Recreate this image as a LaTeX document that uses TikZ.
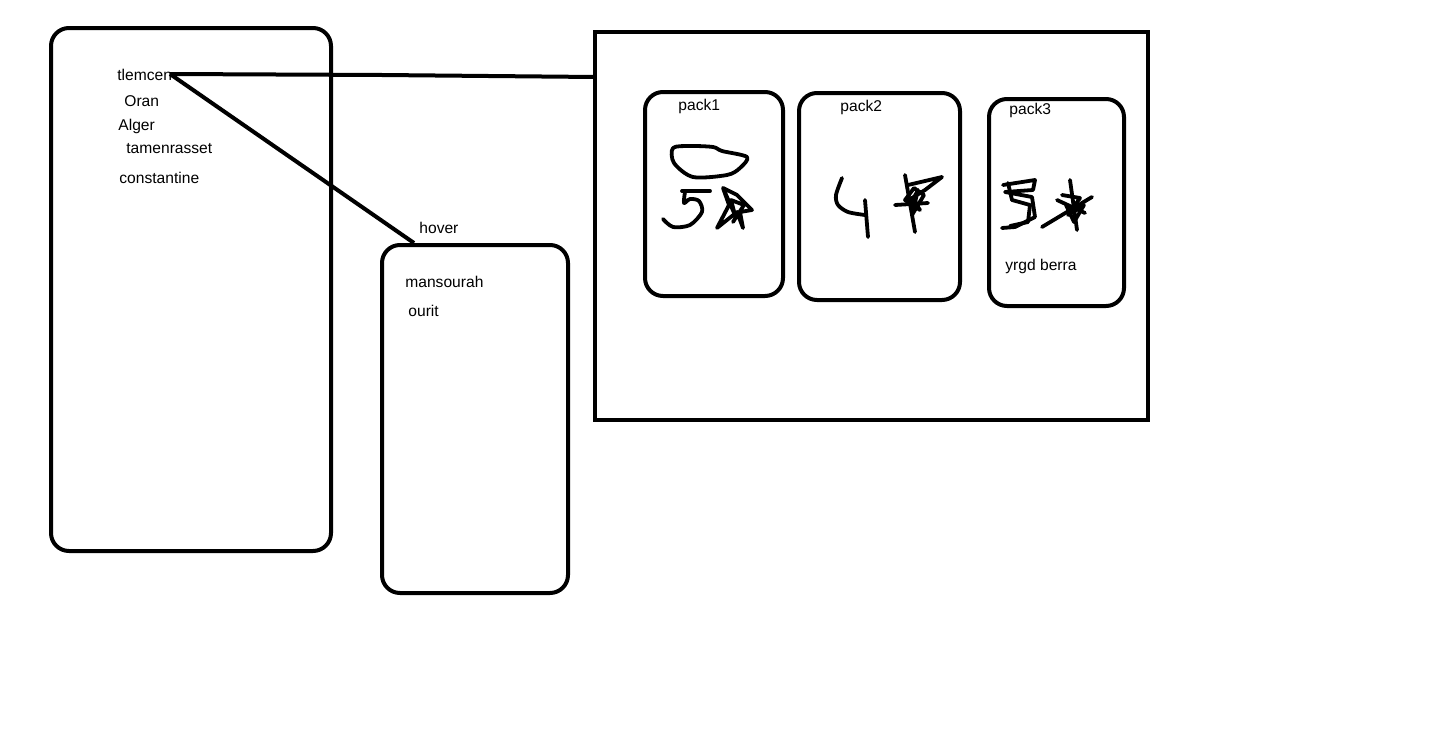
\documentclass[tikz,border=0pt]{standalone}
\usepackage{fontspec}
\setmainfont{Liberation Sans}
\begin{document}
\begin{tikzpicture}[x=0.5pt,y=-0.5pt,
  box/.style={draw=black,line width=2pt,rounded corners=9pt},
  frame/.style={draw=black,line width=2pt},
  conn/.style={draw=black,line width=2pt},
  scrib/.style={draw=black,line width=1.9pt,line cap=round,line join=round},
  lbl/.style={inner sep=0pt,anchor=west,font=\fontsize{7.8}{9}\selectfont}]
\useasboundingbox[fill=white] (0,0) rectangle (1434,755);
% boxes
\draw[box] (51,28) rectangle (331,551);
\draw[box] (382,245) rectangle (568,593);
\draw[frame] (595,32) rectangle (1148,420);
\draw[box] (645,92) rectangle (783,296);
\draw[box] (799,93) rectangle (960,300);
\draw[box] (989,99) rectangle (1124,306);
% labels
\node[lbl] (tlemcen) at (117,75) {tlemcen};
\node[lbl] (oran) at (124,101) {Oran};
\node[lbl] (alger) at (118,126) {Alger};
\node[lbl] (tam) at (126,149) {tamenrasset};
\node[lbl] (const) at (119,178) {constantine};
\node[lbl] (hover) at (419,228) {hover};
\node[lbl] (mans) at (405,282) {mansourah};
\node[lbl] (ourit) at (408,311) {ourit};
\node[lbl] (p1) at (678,106) {pack1};
\node[lbl] (p2) at (840,107) {pack2};
\node[lbl] (p3) at (1009,110) {pack3};
\node[lbl] (yb) at (1005,266) {yrgd berra};
% connectors
\coordinate (c0) at (170,74);
\coordinate (cmid) at (382,75);
\coordinate (cend) at (595,77);
\coordinate (hv) at (414,243);
\draw[conn] (c0) -- (cmid) -- (cend);
\draw[conn] (c0) -- (hv);
% pack1 scribbles
\draw[scrib] plot[smooth cycle] coordinates {(673,148) (690,146) (713,147) (722,151) (747,157) (740,168) (727,175) (693,177) (674,163)};
\draw[scrib] (682,191) -- (710,191);
\draw[scrib] plot[smooth] coordinates {(685,192) (684,203) (690,199) (699,201) (702,212) (690,225) (673,227) (663,219)};
\draw[scrib] plot coordinates {(723,188) (729,205) (717,228) (737,212) (743,228) (740,212) (752,210) (737,195) (723,188) (735,215) (731,200) (744,205) (733,222)};
% pack2 scribbles
\draw[scrib] plot[smooth] coordinates {(842,178) (836,195) (838,205) (848,212) (865,215)};
\draw[scrib] (865,200) -- (868,237);
\draw[scrib] (905,175) -- (915,232);
\draw[scrib] (895,205) -- (928,203);
\draw[scrib] plot coordinates {(908,185) (942,177) (925,190) (912,198) (920,210) (905,200) (914,188) (924,195) (912,215) (918,190) (910,205)};
% pack3 scribbles
\draw[scrib] plot coordinates {(1003,185) (1035,180) (1033,190) (1005,192) (1032,197) (1035,217) (1015,227) (1002,228)};
\draw[scrib] plot coordinates {(1008,183) (1012,200) (1030,205) (1028,222) (1010,226)};
\draw[scrib] (1070,180) -- (1077,230);
\draw[scrib] (1042,227) -- (1092,197);
\draw[scrib] (1057,200) -- (1085,213);
\draw[scrib] plot coordinates {(1062,195) (1080,198) (1068,215) (1084,205) (1074,222) (1066,205)};
\end{tikzpicture}
\end{document}
